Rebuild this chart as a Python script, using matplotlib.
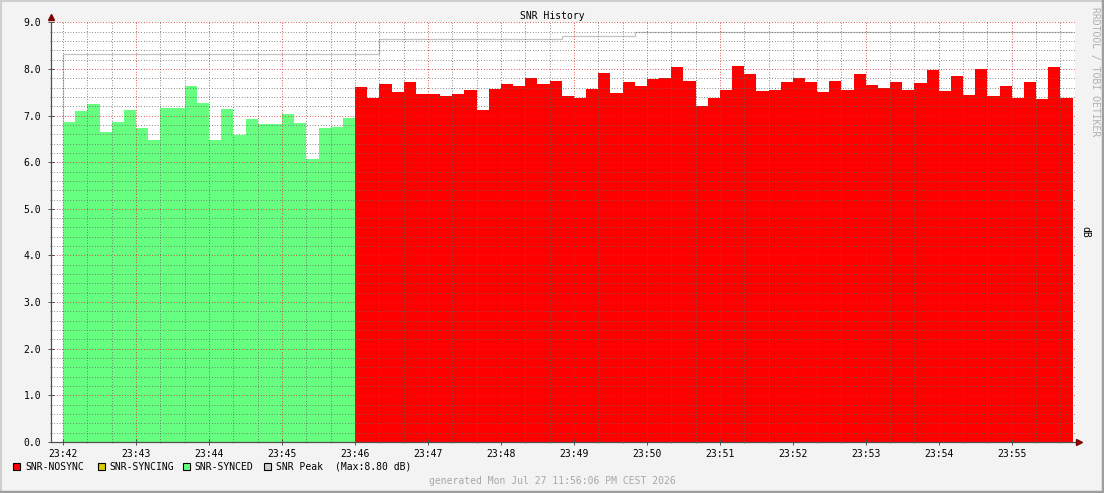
import numpy as np
import matplotlib
matplotlib.use("Agg")
import matplotlib.pyplot as plt
from matplotlib.patches import Rectangle
from matplotlib.lines import Line2D
from matplotlib.ticker import MultipleLocator, FormatStrFormatter

# samples every 10 s starting 23:42:00
step_s = 10
synced_snr = [6.86, 7.10, 7.25, 6.65, 6.86, 7.12, 6.74, 6.48, 7.16, 7.16, 7.64, 7.27,
              6.48, 7.14, 6.59, 6.93, 6.81, 6.81, 7.04, 6.84, 6.07, 6.74, 6.76, 6.95]
nosync_snr = [7.61, 7.38, 7.67, 7.51, 7.71, 7.46, 7.46, 7.41, 7.46, 7.54, 7.11, 7.57,
              7.67, 7.63, 7.80, 7.67, 7.74, 7.41, 7.37, 7.57, 7.91, 7.48, 7.71, 7.63,
              7.78, 7.80, 8.04, 7.74, 7.20, 7.37, 7.54, 8.06, 7.89, 7.52, 7.54, 7.71,
              7.80, 7.71, 7.50, 7.74, 7.54, 7.89, 7.65, 7.59, 7.71, 7.54, 7.69, 7.97,
              7.52, 7.84, 7.44, 7.99, 7.42, 7.63, 7.37, 7.71, 7.35, 8.04, 7.37]
peak_levels = [8.31, 8.33, 8.65, 8.70, 8.80]
peak_runs = [25, 1, 15, 6, 36]
tick_labels = ["23:42", "23:43", "23:44", "23:45", "23:46", "23:47", "23:48",
               "23:49", "23:50", "23:51", "23:52", "23:53", "23:54", "23:55"]

n_synced = len(synced_snr)
n_total = n_synced + len(nosync_snr)
edges = np.arange(n_total + 1) * step_s
peak = np.repeat(peak_levels, peak_runs)

W, H = 1104, 493
fig = plt.figure(figsize=(W / 100, H / 100), dpi=100)
fig.patch.set_facecolor("#F3F3F3")
plt.rcParams["font.family"] = "DejaVu Sans Mono"

ax = fig.add_axes([51 / W, 51 / H, (1075 - 51) / W, (442 - 22.3) / H])
ax.set_facecolor("white")

ax.stairs(peak, edges, baseline=None, color="#C4C4C4", lw=0.9, zorder=1)
ax.vlines(edges[0], 0, peak[0], color="#C4C4C4", lw=0.9, zorder=1)
ax.stairs(synced_snr, edges[:n_synced + 1], fill=True, color="#66FF80", lw=0, zorder=2)
ax.stairs(nosync_snr, edges[n_synced:], fill=True, color="#FF0000", lw=0, zorder=2)

ax.set_xlim(-10, 832)
ax.set_ylim(0, 9.0)

ax.xaxis.set_minor_locator(MultipleLocator(20))
ax.set_xticks(np.arange(len(tick_labels)) * 60)
ax.set_xticklabels(tick_labels)
ax.yaxis.set_major_locator(MultipleLocator(1.0))
ax.yaxis.set_minor_locator(MultipleLocator(0.2))
ax.yaxis.set_major_formatter(FormatStrFormatter("%.1f"))

dot = (0, (0.72, 2.0))
ax.grid(which="minor", color=(0.4, 0.4, 0.4, 0.22), lw=0.72, linestyle=dot)
ax.grid(which="major", color=(0.85, 0.15, 0.15, 0.32), lw=0.72, linestyle=dot)
ax.set_axisbelow(False)
for gl in ax.get_xgridlines() + ax.get_ygridlines():
    gl.set_zorder(3)
    gl.set_snap(True)

for s in ["top", "right"]:
    ax.spines[s].set_visible(False)
for s in ["left", "bottom"]:
    ax.spines[s].set_color("#505050")
    ax.spines[s].set_linewidth(0.9)
    ax.spines[s].set_zorder(4)

ax.tick_params(which="major", direction="inout", length=4, width=0.7, color="#505050",
               labelsize=7, pad=3)
ax.tick_params(which="minor", direction="inout", length=2, width=0.6, color="#909090")
ax.tick_params(axis="y", which="major", pad=5)

# axis arrows
ax.plot([0], [1.012], marker="^", color="#7F0000", ms=4, transform=ax.transAxes, clip_on=False)
ax.plot([1.004], [0], marker=">", color="#7F0000", ms=4, transform=ax.transAxes, clip_on=False)

fig.text(552 / W, 1 - 16 / H, "SNR History", ha="center", va="center", fontsize=7)
fig.text(1085 / W, 1 - 232 / H, "dB", ha="center", va="center", fontsize=7, rotation=270)
fig.text(1095 / W, 1 - 72 / H, "RRDTOOL / TOBI OETIKER", ha="center", va="center",
         fontsize=7, rotation=270, color="#B0B0B0")

legend = [("#FF0000", "SNR-NOSYNC", 13, 25),
          ("#D8CC00", "SNR-SYNCING", 98, 109),
          ("#66FF80", "SNR-SYNCED", 183, 194),
          ("#CCCCCC", "SNR Peak", 264, 276)]
for color, label, sx, tx in legend:
    fig.patches.append(Rectangle((sx / W, 1 - 470 / H), 7 / W, 7 / H, transform=fig.transFigure,
                                 facecolor=color, edgecolor="black", lw=0.8))
    fig.text(tx / W, 1 - 466.5 / H, label, ha="left", va="center", fontsize=7)
fig.text(335 / W, 1 - 466.5 / H, "(Max:%.2f dB)" % max(peak_levels), ha="left", va="center", fontsize=7)

fig.text(552 / W, 1 - 481 / H, "generated Mon Jul 27 11:56:06 PM CEST 2026", ha="center",
         va="center", fontsize=7, color="#A8A8A8")

# shaded frame
fig.lines.append(Line2D([0, 1], [1 - 0.5 / H, 1 - 0.5 / H], transform=fig.transFigure, color="#CFCFCF", lw=1.5))
fig.lines.append(Line2D([0.5 / W, 0.5 / W], [0, 1], transform=fig.transFigure, color="#CFCFCF", lw=1.5))
fig.lines.append(Line2D([0, 1], [1.5 / H, 1.5 / H], transform=fig.transFigure, color="#9E9E9E", lw=2.5))
fig.lines.append(Line2D([1 - 1.5 / W, 1 - 1.5 / W], [0, 1], transform=fig.transFigure, color="#9E9E9E", lw=2.5))

fig.savefig("out.png", dpi=100, facecolor=fig.get_facecolor())
